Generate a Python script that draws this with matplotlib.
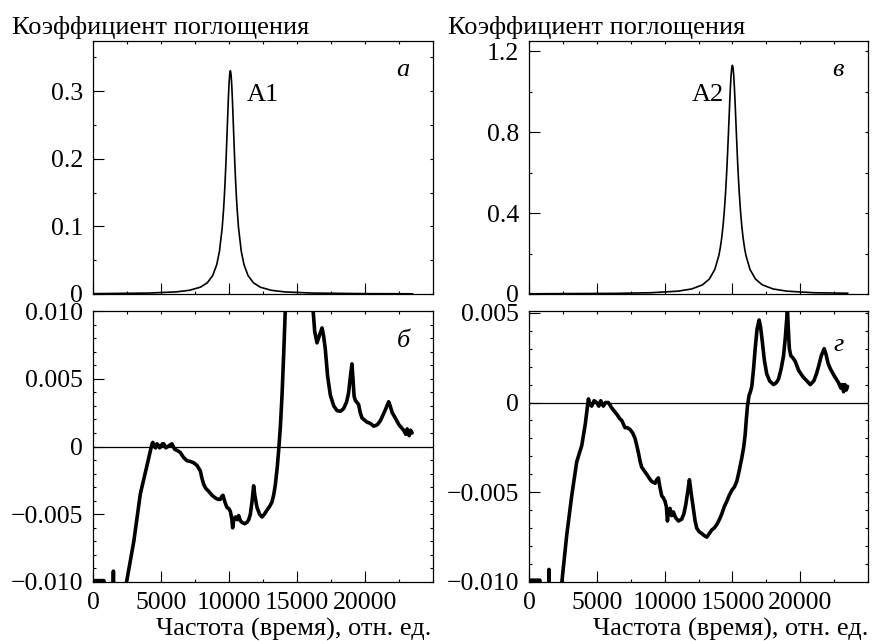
import numpy as np
import matplotlib
matplotlib.use("Agg")
import matplotlib.pyplot as plt
from matplotlib.ticker import MultipleLocator, FixedLocator, FixedFormatter

plt.rcParams['font.family'] = ['Liberation Serif', 'DejaVu Serif']
plt.rcParams['font.size'] = 19

# absorption line A1 (panel a), (x, y)
line_a1 = np.array([
    [0, 0.0005], [4100, 0.0014], [6100, 0.0031], [7100, 0.0055], [7900, 0.0101],
    [8400, 0.0165], [8800, 0.0272], [9100, 0.0436], [9300, 0.0634], [9500, 0.098],
    [9600, 0.125], [9650, 0.1416], [9700, 0.161], [9750, 0.1828], [9800, 0.207],
    [9850, 0.2339], [9900, 0.261], [9950, 0.2875], [10000, 0.3097], [10050, 0.3247],
    [10100, 0.330], [10150, 0.3247], [10200, 0.3097], [10250, 0.2875], [10300, 0.261],
    [10350, 0.2339], [10400, 0.207], [10450, 0.1828], [10500, 0.161], [10550, 0.1416],
    [10600, 0.125], [10700, 0.098], [10900, 0.0634], [11100, 0.0436], [11400, 0.0272],
    [11800, 0.0165], [12300, 0.0101], [13100, 0.0055], [14100, 0.0031], [16100, 0.0014],
    [20100, 0.0005], [23500, 0.0003]])

# absorption line A2 (panel в), (x, y)
line_a2 = np.array([
    [0, 0.001], [6500, 0.0032], [9000, 0.0063], [11000, 0.0141], [12000, 0.0249],
    [12800, 0.0454], [13300, 0.074], [13700, 0.121], [14000, 0.190], [14100, 0.226],
    [14200, 0.2716], [14300, 0.330], [14400, 0.4068], [14500, 0.5056], [14550, 0.565],
    [14600, 0.631], [14650, 0.704], [14700, 0.7825], [14750, 0.8635], [14800, 0.9436],
    [14850, 1.017], [14900, 1.077], [14950, 1.116], [15000, 1.13], [15050, 1.116],
    [15100, 1.077], [15150, 1.017], [15200, 0.9436], [15250, 0.8635], [15300, 0.7825],
    [15350, 0.704], [15400, 0.631], [15450, 0.565], [15500, 0.5056], [15600, 0.4068],
    [15700, 0.330], [15800, 0.2716], [15900, 0.226], [16000, 0.190], [16300, 0.121],
    [16700, 0.074], [17200, 0.0454], [18000, 0.0249], [19000, 0.0141], [21000, 0.0063],
    [23500, 0.0038]])

# residual after fitting A1 (panel б), (x, y)
resid_b = np.array([
    [0, -0.0099], [800, -0.0099], [1000, -0.0115], [1450, -0.0112], [1500, -0.0092],
    [1550, -0.0115], [2000, -0.0130], [2450, -0.0101], [3000, -0.0070], [3480, -0.0035],
    [3900, -0.0017], [4340, 0.0002], [4400, 0.0003], [4500, 0.0000], [4600, -0.0001],
    [4700, 0.0002], [4800, 0.0001], [4900, -0.0001], [5000, 0.0000], [5100, 0.0002],
    [5200, 0.0002], [5350, -0.0001], [5500, 0.0000], [5650, 0.0001], [5800, 0.0002],
    [6000, -0.0002], [6200, -0.0003], [6420, -0.00044], [6650, -0.0008], [6910, -0.00105],
    [7150, -0.0011], [7400, -0.0012], [7650, -0.0014], [7890, -0.0018], [8000, -0.0023],
    [8140, -0.0028], [8300, -0.0031], [8500, -0.0033], [8750, -0.0036], [9000, -0.0038],
    [9200, -0.0039], [9360, -0.0039], [9460, -0.0037], [9560, -0.0036], [9700, -0.0041],
    [9850, -0.0045], [10000, -0.0046], [10100, -0.0048], [10200, -0.0053],
    [10270, -0.0060], [10350, -0.0054], [10470, -0.0052], [10600, -0.0054],
    [10710, -0.0051], [10850, -0.0055], [10960, -0.0056], [11150, -0.0057],
    [11320, -0.0056], [11450, -0.0054], [11570, -0.0050], [11700, -0.0040],
    [11810, -0.0029], [11900, -0.0036], [12060, -0.0045], [12250, -0.0050],
    [12430, -0.0052], [12600, -0.0050], [12790, -0.0047], [13000, -0.0044],
    [13160, -0.0041], [13300, -0.0035], [13410, -0.0028], [13550, -0.0015],
    [13650, -0.0003], [13780, 0.0015], [13900, 0.0038], [14020, 0.0068], [14140, 0.0101],
    [14500, 0.016], [15000, 0.020], [15600, 0.016], [16180, 0.0101], [16300, 0.0085],
    [16470, 0.00765], [16650, 0.0082], [16840, 0.00875], [16950, 0.0082],
    [17080, 0.0072], [17250, 0.0052], [17450, 0.0038], [17700, 0.0030],
    [17940, 0.00265], [18200, 0.0026], [18430, 0.0028], [18650, 0.0033], [18800, 0.0040],
    [18930, 0.0052], [19040, 0.0061], [19130, 0.0048], [19200, 0.0037], [19290, 0.0034],
    [19530, 0.0031], [19650, 0.0025], [19780, 0.0021], [20150, 0.0018], [20400, 0.0017],
    [20640, 0.0015], [20900, 0.0016], [21130, 0.0019], [21450, 0.0026], [21740, 0.0033],
    [21850, 0.0030], [22000, 0.0025], [22230, 0.0021], [22500, 0.0016], [22840, 0.0012],
    [23000, 0.0009], [23100, 0.0013], [23250, 0.0008], [23350, 0.0012], [23460, 0.0010]])

# residual after fitting A2 (panel г), (x, y)
resid_g = np.array([
    [0, -0.0099], [800, -0.0099], [1000, -0.0115], [1430, -0.0112], [1475, -0.0093],
    [1520, -0.0115], [2000, -0.0130], [2410, -0.0101], [2780, -0.0074], [3150, -0.0052],
    [3520, -0.0033], [3890, -0.0024], [4150, -0.0012], [4380, 0.0002], [4500, -0.0001],
    [4620, -0.0002], [4800, 0.0001], [4990, 0.0000], [5150, -0.0002], [5290, 0.0001],
    [5480, -0.0002], [5650, 0.0000], [5850, 0.0000], [6100, -0.0003], [6470, -0.00065],
    [6700, -0.0009], [6840, -0.0010], [7080, -0.0014], [7250, -0.0014], [7450, -0.0015],
    [7650, -0.0017], [7820, -0.0020], [7950, -0.0024], [8070, -0.0028], [8200, -0.0033],
    [8310, -0.0036], [8500, -0.0038], [8680, -0.0040], [8850, -0.0042], [9050, -0.0044],
    [9300, -0.0045], [9420, -0.0043], [9540, -0.0042], [9650, -0.0047], [9790, -0.0052],
    [9900, -0.0053], [10030, -0.0055], [10130, -0.0058], [10210, -0.0066],
    [10300, -0.0060], [10400, -0.0059], [10520, -0.0063], [10650, -0.0061],
    [10800, -0.0064], [11020, -0.0066], [11260, -0.0065], [11420, -0.0062],
    [11560, -0.0057], [11700, -0.0050], [11830, -0.0043], [11950, -0.0050],
    [12120, -0.0059], [12250, -0.0066], [12370, -0.0070], [12550, -0.0072],
    [12740, -0.0073], [12900, -0.0074], [13110, -0.0075], [13300, -0.0073],
    [13480, -0.0071], [13650, -0.0070], [13850, -0.0068], [14050, -0.0065],
    [14220, -0.0062], [14400, -0.0058], [14590, -0.0055], [14750, -0.0052],
    [14950, -0.0049], [15150, -0.0047], [15320, -0.0044], [15500, -0.0038],
    [15690, -0.0031], [15830, -0.0025], [15940, -0.0018], [16030, -0.0009],
    [16110, -0.0002], [16230, 0.0004], [16330, 0.0006], [16430, 0.0009], [16550, 0.0018],
    [16680, 0.0030], [16820, 0.0041], [16970, 0.0046], [17080, 0.0042], [17220, 0.0033],
    [17350, 0.0024], [17530, 0.0016], [17750, 0.0012], [18030, 0.0010], [18230, 0.0011],
    [18400, 0.0013], [18600, 0.0019], [18770, 0.0026], [18900, 0.0036], [19000, 0.0046],
    [19060, 0.0052], [19130, 0.0040], [19200, 0.0030], [19310, 0.0026], [19450, 0.0025],
    [19630, 0.0023], [19880, 0.0018], [20050, 0.0016], [20240, 0.0014], [20500, 0.0012],
    [20740, 0.0010], [21000, 0.0012], [21200, 0.0016], [21350, 0.0020], [21550, 0.0026],
    [21770, 0.0030], [21900, 0.0027], [22050, 0.0022], [22210, 0.0019], [22500, 0.0015],
    [22830, 0.0011], [23000, 0.0008], [23100, 0.0010], [23200, 0.0006], [23300, 0.0010],
    [23400, 0.0007], [23490, 0.0009]])

xticks = [0, 5000, 10000, 15000, 20000]
xtick_labels = ['0', '5000', '10000', '15000', '20000']
yticks_a = [0, 0.1, 0.2, 0.3]
ytick_labels_a = ['0', '0.1', '0.2', '0.3']
yticks_v = [0, 0.4, 0.8, 1.2]
ytick_labels_v = ['0', '0.4', '0.8', '1.2']
yticks_b = [-0.010, -0.005, 0, 0.005, 0.010]
ytick_labels_b = ['\u22120.010', '\u22120.005', '0', '0.005', '0.010']
yticks_g = [-0.010, -0.005, 0, 0.005]
ytick_labels_g = ['\u22120.010', '\u22120.005', '0', '0.005']

ylabel = 'Коэффициент поглощения'
xlabel = 'Частота (время), отн. ед.'

W, H = 872, 641
fig = plt.figure(figsize=(W / 100, H / 100), dpi=100)


def box(l, r, t, b):
    return [l / W, 1 - b / H, (r - l) / W, (b - t) / H]


ax_a = fig.add_axes(box(93, 433, 41, 294))
ax_b = fig.add_axes(box(93, 433, 311, 582))
ax_v = fig.add_axes(box(529, 868, 41, 294))
ax_g = fig.add_axes(box(529, 868, 311, 582))


def style(ax, yt, ytl, ylim, yminor, bottom_labels):
    ax.set_xlim(0, 25000)
    ax.set_ylim(*ylim)
    ax.xaxis.remove_overlapping_locs = False
    ax.yaxis.remove_overlapping_locs = False
    ax.xaxis.set_major_locator(FixedLocator(xticks))
    if bottom_labels:
        ax.xaxis.set_major_formatter(FixedFormatter(xtick_labels))
    else:
        ax.set_xticklabels([])
    ax.xaxis.set_minor_locator(MultipleLocator(2500))
    ax.yaxis.set_major_locator(FixedLocator(yt))
    ax.yaxis.set_major_formatter(FixedFormatter(ytl))
    ax.yaxis.set_minor_locator(MultipleLocator(yminor))
    ax.tick_params(which='major', direction='in', length=8, width=0.8,
                   top=False, right=False, pad=7, labelsize=18.5)
    ax.tick_params(which='minor', direction='in', length=2, width=0.8,
                   top=True, right=True)
    for s in ax.spines.values():
        s.set_linewidth(0.9)


style(ax_a, yticks_a, ytick_labels_a, (0, 0.374), 0.05, False)
style(ax_v, yticks_v, ytick_labels_v, (0, 1.25), 0.2, False)
style(ax_b, yticks_b, ytick_labels_b, (-0.010, 0.010), 0.001, True)
style(ax_g, yticks_g, ytick_labels_g, (-0.010, 0.0051), 0.001, True)

ax_a.plot(line_a1[:, 0], line_a1[:, 1], color='black', lw=1.2)
ax_v.plot(line_a2[:, 0], line_a2[:, 1], color='black', lw=1.2)
for ax, res in [(ax_b, resid_b), (ax_g, resid_g)]:
    ax.axhline(0, color='black', lw=0.9)
    ax.plot(res[:, 0], res[:, 1], color='black', lw=2.6,
            solid_joinstyle='round', solid_capstyle='round')

ax_a.text(12500, 0.294, 'A1', ha='center', va='center')
ax_v.text(13200, 0.983, 'A2', ha='center', va='center')

for ax, letter, yf in [(ax_a, 'а', 0.885), (ax_v, 'в', 0.885),
                       (ax_b, 'б', 0.89), (ax_g, 'г', 0.875)]:
    ax.text(0.912, yf, letter, transform=ax.transAxes, ha='center', va='center',
            style='italic')

fig.text(12 / W, 1 - 34 / H, ylabel, ha='left', va='baseline')
fig.text(448 / W, 1 - 34 / H, ylabel, ha='left', va='baseline')
fig.text(431 / W, 1 - 636 / H, xlabel, ha='right', va='baseline')
fig.text(868 / W, 1 - 636 / H, xlabel, ha='right', va='baseline')

fig.savefig('out.png', dpi=100)
